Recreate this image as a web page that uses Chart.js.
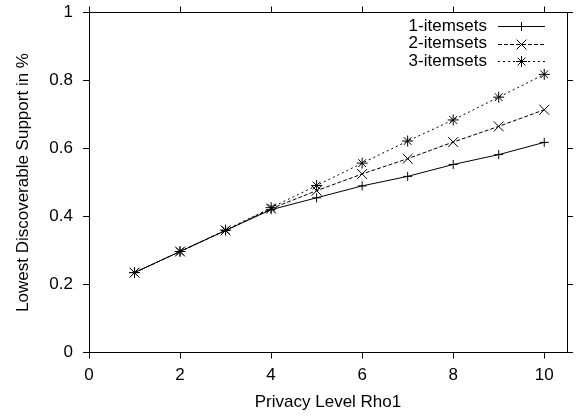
<!DOCTYPE html>
<html>
<head>
<meta charset="utf-8">
<script src="https://cdn.jsdelivr.net/npm/chart.js@4/dist/chart.umd.min.js"></script>
<style>
  html, body { margin: 0; padding: 0; background: #fff; }
  canvas { display: block; }
</style>
</head>
<body>
<canvas id="c" width="579" height="418" style="width:579px;height:418px"></canvas>
<script>
// ---- data ----
const rhoLevels = [1, 2, 3, 4, 5, 6, 7, 8, 9, 10];
const itemsets1 = [0.235, 0.297, 0.359, 0.420, 0.455, 0.490, 0.518, 0.553, 0.582, 0.618];
const itemsets2 = [0.235, 0.297, 0.359, 0.423, 0.476, 0.525, 0.570, 0.619, 0.665, 0.714];
const itemsets3 = [0.235, 0.297, 0.360, 0.426, 0.491, 0.557, 0.622, 0.684, 0.751, 0.818];
const seriesNames = ['1-itemsets', '2-itemsets', '3-itemsets'];
const xTicks = [0, 2, 4, 6, 8, 10];
const yTicks = [0, 0.2, 0.4, 0.6, 0.8, 1];
const xTitle = 'Privacy Level Rho1';
const yTitle = 'Lowest Discoverable Support in %';

const FONT = "'Liberation Sans', Arial, Helvetica, sans-serif";
Chart.defaults.font.family = FONT;
Chart.defaults.font.size = 17;
Chart.defaults.color = '#000';

function pts(vals) { return rhoLevels.map((x, i) => ({ x: x, y: vals[i] })); }

const styles = [
  { dash: [], pointStyle: 'cross', radius: 4.5 },
  { dash: [4, 2], pointStyle: 'crossRot', radius: 7 },
  { dash: [2, 3], pointStyle: 'star', radius: 5.5 }
];
const seriesVals = [itemsets1, itemsets2, itemsets3];

const datasets = seriesVals.map((v, i) => ({
  label: seriesNames[i],
  data: pts(v),
  borderColor: '#000',
  backgroundColor: '#000',
  borderWidth: 1,
  borderDash: styles[i].dash,
  pointStyle: styles[i].pointStyle,
  pointRadius: styles[i].radius,
  pointHoverRadius: styles[i].radius,
  pointBorderColor: '#000',
  pointBorderWidth: 1,
  tension: 0,
  fill: false
}));

function setTicks(list) {
  return function (scale) { scale.ticks = list.map(v => ({ value: v })); };
}
function fixW(w) { return function (s) { s.width = w; s.paddingTop = 0; s.paddingBottom = 0; }; }
function fixH(h) { return function (s) { s.height = h; s.paddingLeft = 0; s.paddingRight = 0; }; }

const gridOpts = {
  drawOnChartArea: false,
  drawTicks: true,
  tickLength: 6,
  color: '#000',
  tickColor: '#000',
  lineWidth: 1
};
const borderOpts = { display: true, color: '#000', width: 1 };

const legendPlugin = {
  id: 'gnuLegend',
  afterDraw(chart) {
    const ctx = chart.ctx;
    const rows = [26, 43.5, 61];
    const textRight = 487, lineL = 498, lineR = 545;
    ctx.save();
    ctx.font = '17px ' + FONT;
    ctx.fillStyle = '#000';
    ctx.textAlign = 'right';
    ctx.textBaseline = 'middle';
    chart.data.datasets.forEach((ds, i) => {
      const y = rows[i];
      ctx.fillText(ds.label, textRight, y);
      ctx.beginPath();
      ctx.setLineDash(ds.borderDash);
      ctx.strokeStyle = '#000';
      ctx.lineWidth = 1;
      ctx.moveTo(lineL, Math.round(y) + 0.5);
      ctx.lineTo(lineR, Math.round(y) + 0.5);
      ctx.stroke();
      ctx.setLineDash([]);
      const cx = (lineL + lineR) / 2;
      if (Chart.helpers && Chart.helpers.drawPoint) {
        ctx.strokeStyle = '#000';
        ctx.fillStyle = '#000';
        ctx.lineWidth = 1;
        Chart.helpers.drawPoint(ctx, {
          pointStyle: ds.pointStyle, radius: ds.pointRadius, rotation: 0, borderWidth: 1
        }, cx, Math.round(y) + 0.5);
        ctx.fillStyle = '#000';
      }
    });
    ctx.restore();
  }
};

new Chart(document.getElementById('c'), {
  type: 'line',
  data: { datasets: datasets },
  plugins: [legendPlugin],
  options: {
    responsive: false,
    animation: false,
    devicePixelRatio: 1,
    layout: { padding: 0 },
    plugins: { legend: { display: false }, tooltip: { enabled: false } },
    scales: {
      x: {
        type: 'linear', position: 'bottom', min: 0, max: 10.5,
        afterBuildTicks: setTicks(xTicks),
        afterFit: fixH(65.5),
        grid: gridOpts, border: borderOpts,
        ticks: { padding: 7, maxRotation: 0, autoSkip: false, callback: v => String(v), color: '#000' },
        title: { display: true, text: xTitle, color: '#000', padding: { top: 0, bottom: 5 }, font: { size: 17 } }
      },
      x2: {
        type: 'linear', position: 'top', min: 0, max: 10.5,
        afterBuildTicks: setTicks(xTicks),
        afterFit: fixH(12.5),
        grid: gridOpts, border: borderOpts,
        ticks: { display: false }
      },
      y: {
        type: 'linear', position: 'left', min: 0, max: 1,
        afterBuildTicks: setTicks(yTicks),
        afterFit: fixW(89),
        grid: gridOpts, border: borderOpts,
        ticks: { padding: 10, autoSkip: false, callback: v => String(v), color: '#000' },
        title: { display: true, text: yTitle, color: '#000', padding: { top: 13, bottom: 0 }, font: { size: 17 } }
      },
      y2: {
        type: 'linear', position: 'right', min: 0, max: 1,
        afterBuildTicks: setTicks(yTicks),
        afterFit: fixW(12),
        grid: gridOpts, border: borderOpts,
        ticks: { display: false }
      }
    }
  }
});
</script>
</body>
</html>
